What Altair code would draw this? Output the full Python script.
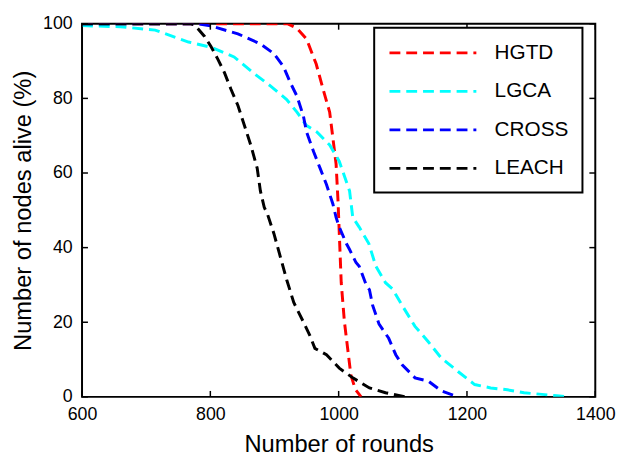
import altair as alt
import pandas as pd

series_names = ["HGTD", "LGCA", "CROSS", "LEACH"]
series_colors = ["#ff0000", "#00ffff", "#0000ff", "#000000"]

hgtd_x = [600, 920, 935, 950, 965, 976, 986, 991, 996, 999, 1001, 1004, 1009, 1014, 1019, 1026, 1035]
hgtd_y = [100, 100, 98.8, 95.9, 89.2, 82.3, 76.3, 69.4, 62.4, 52.5, 43.8, 30.6, 20.1, 13.0, 5.9, 2.0, 0]

lgca_x = [600, 660, 714, 766, 801, 837, 868, 894, 919, 935, 950, 966, 986, 1001, 1017, 1022, 1032,
          1047, 1058, 1073, 1084, 1099, 1119, 1140, 1160, 1186, 1212, 1237, 1263, 1289, 1340, 1358]
lgca_y = [99.5, 99.2, 98.3, 95.1, 93.7, 91.1, 86.7, 83.3, 79.7, 76.3, 72.7, 71.0, 67.5, 63.1, 55.2, 48.1, 45.5,
          41.1, 35.0, 30.6, 28.9, 24.5, 18.9, 14.7, 10.4, 6.8, 3.3, 2.4, 1.9, 1.1, 0.3, 0]

cross_x = [600, 780, 801, 843, 878, 899, 914, 925, 935, 945, 950, 961, 971, 981, 991, 996, 1001,
           1012, 1017, 1027, 1032, 1043, 1048, 1053, 1063, 1078, 1089, 1099, 1119, 1140, 1160, 1186]
cross_y = [100, 100, 99.4, 97.3, 94.6, 92.0, 88.5, 84.1, 80.6, 75.3, 71.0, 65.7, 61.3, 56.9, 51.7, 48.1, 45.5,
           41.1, 39.5, 36.0, 35.0, 30.0, 28.7, 24.5, 19.5, 15.7, 11.3, 8.6, 5.1, 4.2, 1.6, 0]

leach_x = [600, 770, 776, 791, 801, 812, 822, 832, 843, 853, 863, 873, 878, 884, 889, 899, 909, 919,
           930, 945, 955, 963, 981, 1001, 1022, 1048, 1073, 1104]
leach_y = [100, 100, 99.6, 96.6, 93.9, 90.4, 86.9, 82.5, 78.1, 72.8, 67.5, 61.3, 55.2, 50.8, 49.0, 43.8, 37.6, 31.4,
           25.3, 20.1, 16.5, 13.0, 11.3, 7.7, 5.1, 2.4, 1.1, 0]

x_ticks = [600, 800, 1000, 1200, 1400]
y_ticks = [0, 20, 40, 60, 80, 100]

rows = []
for name, xs, ys in [("HGTD", hgtd_x, hgtd_y), ("LGCA", lgca_x, lgca_y),
                     ("CROSS", cross_x, cross_y), ("LEACH", leach_x, leach_y)]:
    for i, (a, b) in enumerate(zip(xs, ys)):
        rows.append({"series": name, "rounds": a, "alive": b, "idx": i})
df = pd.DataFrame(rows)

W, H = 520, 378
xscale = alt.Scale(domain=[600, 1400], nice=False, zero=False)
yscale = alt.Scale(domain=[0, 100], nice=False)

x_axis = alt.Axis(values=x_ticks, format="d", ticks=False, domain=False, grid=False, labelFontSize=18,
                  labelPadding=9, title="Number of rounds", titleFontSize=24, titleFontWeight="normal",
                  titlePadding=9, labelColor="black", titleColor="black", labelFlush=False)
y_axis = alt.Axis(values=y_ticks, format="d", ticks=False, domain=False, grid=False, labelFontSize=18,
                  labelPadding=10, title="Number of nodes alive (%)", titleFontSize=24,
                  titleFontWeight="normal", titlePadding=7, labelColor="black", titleColor="black")

x_enc = alt.X("rounds:Q", scale=xscale, axis=x_axis)
y_enc = alt.Y("alive:Q", scale=yscale, axis=y_axis)

color = alt.Color(
    "series:N",
    scale=alt.Scale(domain=series_names, range=series_colors),
    sort=series_names,
    legend=alt.Legend(title=None, orient="none", legendX=296, legendY=4, symbolType="M-1,0H7.8",
                      symbolSize=400, symbolStrokeWidth=3, symbolDash=[11, 6], labelFontSize=21,
                      labelOffset=85, rowPadding=17, padding=14, strokeColor="black",
                      fillColor="white", labelColor="black", symbolFillColor="transparent"),
)

layers = []
for name in series_names:
    layers.append(
        alt.Chart(df).transform_filter(alt.datum.series == name)
        .mark_line(strokeWidth=3, strokeDash=[11, 6], clip=True)
        .encode(x=x_enc, y=y_enc, color=color, order="idx:Q")
    )

xt = pd.DataFrame({"rounds": x_ticks})
yt = pd.DataFrame({"alive": y_ticks})
tick_style = dict(color="black", strokeWidth=1.5)
bottom_ticks = alt.Chart(xt).mark_rule(**tick_style).encode(x=x_enc, y=alt.value(H), y2=alt.value(H - 6))
top_ticks = alt.Chart(xt).mark_rule(**tick_style).encode(x=x_enc, y=alt.value(0), y2=alt.value(6))
left_ticks = alt.Chart(yt).mark_rule(**tick_style).encode(y=y_enc, x=alt.value(0), x2=alt.value(6))
right_ticks = alt.Chart(yt).mark_rule(**tick_style).encode(y=y_enc, x=alt.value(W), x2=alt.value(W - 6))

chart = alt.layer(*layers, bottom_ticks, top_ticks, left_ticks, right_ticks).properties(
    width=W, height=H,
    padding={"left": 75, "top": 13, "right": 22, "bottom": 62},
    autosize="none",
    background="white",
).configure(font="Liberation Sans").configure_view(
    stroke="black", strokeWidth=2
).configure_legend(strokeWidth=2)

chart.save("out.html", embed_options={"renderer": "svg", "actions": False})
